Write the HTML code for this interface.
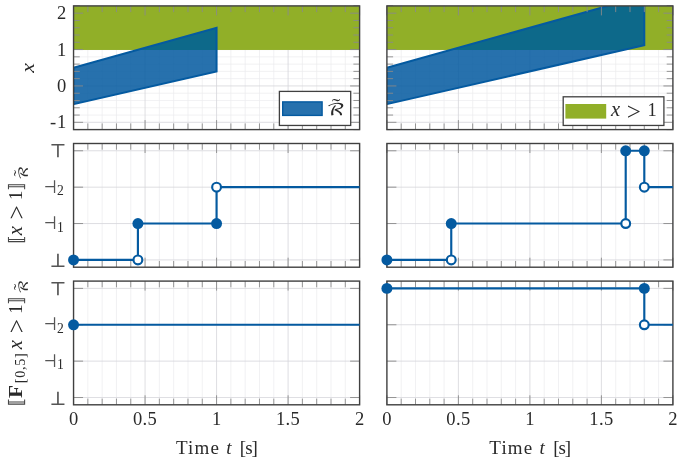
<!DOCTYPE html>
<html><head><meta charset="utf-8"><title>plot</title><style>html,body{margin:0;padding:0;background:#fff}svg{display:block}</style></head><body>
<svg width="685" height="466" viewBox="0 0 685 466">
<rect width="685" height="466" fill="#fff"/>
<defs>
<clipPath id="c0"><rect x="73.55" y="5.9" width="286.05" height="123.7"/></clipPath>
<clipPath id="u0"><rect x="73.55" y="5.9" width="286.05" height="44.06"/></clipPath>
<clipPath id="l0"><rect x="73.55" y="49.96" width="286.05" height="79.64"/></clipPath>
<clipPath id="c1"><rect x="386.9" y="5.9" width="286" height="123.7"/></clipPath>
<clipPath id="u1"><rect x="386.9" y="5.9" width="286" height="44.06"/></clipPath>
<clipPath id="l1"><rect x="386.9" y="49.96" width="286" height="79.64"/></clipPath>
</defs>
<path d="M87.85 5.9V129.6M102.16 5.9V129.6M116.46 5.9V129.6M130.76 5.9V129.6M159.37 5.9V129.6M173.67 5.9V129.6M187.97 5.9V129.6M202.27 5.9V129.6M230.88 5.9V129.6M245.18 5.9V129.6M259.48 5.9V129.6M273.79 5.9V129.6M302.39 5.9V129.6M316.69 5.9V129.6M331 5.9V129.6M345.3 5.9V129.6M73.55 115.05H359.6M73.55 107.77H359.6M73.55 100.49H359.6M73.55 93.22H359.6M73.55 78.66H359.6M73.55 71.39H359.6M73.55 64.11H359.6M73.55 56.84H359.6M73.55 42.28H359.6M73.55 35.01H359.6M73.55 27.73H359.6M73.55 20.45H359.6" stroke="#ebebee" stroke-width="0.7" fill="none"/>
<path d="M145.06 5.9V129.6M216.57 5.9V129.6M288.09 5.9V129.6M73.55 122.32H359.6M73.55 85.94H359.6M73.55 49.56H359.6M73.55 13.18H359.6" stroke="#d6d6da" stroke-width="0.8" fill="none"/>
<rect x="73.55" y="5.9" width="286.05" height="44.06" fill="#91af28"/>
<polygon points="73.55,67.75 216.57,27.73 216.57,71.39 73.55,104.13" fill="#0d698a" clip-path="url(#u0)"/>
<polygon points="73.55,67.75 216.57,27.73 216.57,71.39 73.55,104.13" fill="#045aa0" fill-opacity="0.86" clip-path="url(#l0)"/>
<polygon points="73.55,67.75 216.57,27.73 216.57,71.39 73.55,104.13" fill="none" stroke="#045aa0" stroke-width="2" stroke-linejoin="miter" clip-path="url(#c0)"/>
<path d="M73.55 5.9v9.5M73.55 129.6v-9.5M87.85 5.9v6.2M87.85 129.6v-6.2M102.16 5.9v6.2M102.16 129.6v-6.2M116.46 5.9v6.2M116.46 129.6v-6.2M130.76 5.9v6.2M130.76 129.6v-6.2M145.06 5.9v9.5M145.06 129.6v-9.5M159.37 5.9v6.2M159.37 129.6v-6.2M173.67 5.9v6.2M173.67 129.6v-6.2M187.97 5.9v6.2M187.97 129.6v-6.2M202.27 5.9v6.2M202.27 129.6v-6.2M216.57 5.9v9.5M216.57 129.6v-9.5M230.88 5.9v6.2M230.88 129.6v-6.2M245.18 5.9v6.2M245.18 129.6v-6.2M259.48 5.9v6.2M259.48 129.6v-6.2M273.79 5.9v6.2M273.79 129.6v-6.2M288.09 5.9v9.5M288.09 129.6v-9.5M302.39 5.9v6.2M302.39 129.6v-6.2M316.69 5.9v6.2M316.69 129.6v-6.2M331 5.9v6.2M331 129.6v-6.2M345.3 5.9v6.2M345.3 129.6v-6.2M359.6 5.9v9.5M359.6 129.6v-9.5M73.55 129.6h6.2M359.6 129.6h-6.2M73.55 122.32h9.5M359.6 122.32h-9.5M73.55 115.05h6.2M359.6 115.05h-6.2M73.55 107.77h6.2M359.6 107.77h-6.2M73.55 100.49h6.2M359.6 100.49h-6.2M73.55 93.22h6.2M359.6 93.22h-6.2M73.55 85.94h9.5M359.6 85.94h-9.5M73.55 78.66h6.2M359.6 78.66h-6.2M73.55 71.39h6.2M359.6 71.39h-6.2M73.55 64.11h6.2M359.6 64.11h-6.2M73.55 56.84h6.2M359.6 56.84h-6.2M73.55 49.56h9.5M359.6 49.56h-9.5M73.55 42.28h6.2M359.6 42.28h-6.2M73.55 35.01h6.2M359.6 35.01h-6.2M73.55 27.73h6.2M359.6 27.73h-6.2M73.55 20.45h6.2M359.6 20.45h-6.2M73.55 13.18h9.5M359.6 13.18h-9.5M73.55 5.9h6.2M359.6 5.9h-6.2" stroke="#8a8a8a" stroke-width="0.9" fill="none"/>
<rect x="73.55" y="5.9" width="286.05" height="123.7" fill="none" stroke="#404040" stroke-width="1.4"/>
<path d="M401.2 5.9V129.6M415.5 5.9V129.6M429.8 5.9V129.6M444.1 5.9V129.6M472.7 5.9V129.6M487 5.9V129.6M501.3 5.9V129.6M515.6 5.9V129.6M544.2 5.9V129.6M558.5 5.9V129.6M572.8 5.9V129.6M587.1 5.9V129.6M615.7 5.9V129.6M630 5.9V129.6M644.3 5.9V129.6M658.6 5.9V129.6M386.9 115.05H672.9M386.9 107.77H672.9M386.9 100.49H672.9M386.9 93.22H672.9M386.9 78.66H672.9M386.9 71.39H672.9M386.9 64.11H672.9M386.9 56.84H672.9M386.9 42.28H672.9M386.9 35.01H672.9M386.9 27.73H672.9M386.9 20.45H672.9" stroke="#ebebee" stroke-width="0.7" fill="none"/>
<path d="M458.4 5.9V129.6M529.9 5.9V129.6M601.4 5.9V129.6M386.9 122.32H672.9M386.9 85.94H672.9M386.9 49.56H672.9M386.9 13.18H672.9" stroke="#d6d6da" stroke-width="0.8" fill="none"/>
<rect x="386.9" y="5.9" width="286" height="44.06" fill="#91af28"/>
<polygon points="386.9,67.75 644.3,-4.29 644.3,45.19 386.9,104.13" fill="#0d698a" clip-path="url(#u1)"/>
<polygon points="386.9,67.75 644.3,-4.29 644.3,45.19 386.9,104.13" fill="#045aa0" fill-opacity="0.86" clip-path="url(#l1)"/>
<polygon points="386.9,67.75 644.3,-4.29 644.3,45.19 386.9,104.13" fill="none" stroke="#045aa0" stroke-width="2" stroke-linejoin="miter" clip-path="url(#c1)"/>
<path d="M386.9 5.9v9.5M386.9 129.6v-9.5M401.2 5.9v6.2M401.2 129.6v-6.2M415.5 5.9v6.2M415.5 129.6v-6.2M429.8 5.9v6.2M429.8 129.6v-6.2M444.1 5.9v6.2M444.1 129.6v-6.2M458.4 5.9v9.5M458.4 129.6v-9.5M472.7 5.9v6.2M472.7 129.6v-6.2M487 5.9v6.2M487 129.6v-6.2M501.3 5.9v6.2M501.3 129.6v-6.2M515.6 5.9v6.2M515.6 129.6v-6.2M529.9 5.9v9.5M529.9 129.6v-9.5M544.2 5.9v6.2M544.2 129.6v-6.2M558.5 5.9v6.2M558.5 129.6v-6.2M572.8 5.9v6.2M572.8 129.6v-6.2M587.1 5.9v6.2M587.1 129.6v-6.2M601.4 5.9v9.5M601.4 129.6v-9.5M615.7 5.9v6.2M615.7 129.6v-6.2M630 5.9v6.2M630 129.6v-6.2M644.3 5.9v6.2M644.3 129.6v-6.2M658.6 5.9v6.2M658.6 129.6v-6.2M672.9 5.9v9.5M672.9 129.6v-9.5M386.9 129.6h6.2M672.9 129.6h-6.2M386.9 122.32h9.5M672.9 122.32h-9.5M386.9 115.05h6.2M672.9 115.05h-6.2M386.9 107.77h6.2M672.9 107.77h-6.2M386.9 100.49h6.2M672.9 100.49h-6.2M386.9 93.22h6.2M672.9 93.22h-6.2M386.9 85.94h9.5M672.9 85.94h-9.5M386.9 78.66h6.2M672.9 78.66h-6.2M386.9 71.39h6.2M672.9 71.39h-6.2M386.9 64.11h6.2M672.9 64.11h-6.2M386.9 56.84h6.2M672.9 56.84h-6.2M386.9 49.56h9.5M672.9 49.56h-9.5M386.9 42.28h6.2M672.9 42.28h-6.2M386.9 35.01h6.2M672.9 35.01h-6.2M386.9 27.73h6.2M672.9 27.73h-6.2M386.9 20.45h6.2M672.9 20.45h-6.2M386.9 13.18h9.5M672.9 13.18h-9.5M386.9 5.9h6.2M672.9 5.9h-6.2" stroke="#8a8a8a" stroke-width="0.9" fill="none"/>
<rect x="386.9" y="5.9" width="286" height="123.7" fill="none" stroke="#404040" stroke-width="1.4"/>
<path d="M87.85 143.5V267.2M102.16 143.5V267.2M116.46 143.5V267.2M130.76 143.5V267.2M159.37 143.5V267.2M173.67 143.5V267.2M187.97 143.5V267.2M202.27 143.5V267.2M230.88 143.5V267.2M245.18 143.5V267.2M259.48 143.5V267.2M273.79 143.5V267.2M302.39 143.5V267.2M316.69 143.5V267.2M331 143.5V267.2M345.3 143.5V267.2" stroke="#ebebee" stroke-width="0.7" fill="none"/>
<path d="M145.06 143.5V267.2M216.57 143.5V267.2M288.09 143.5V267.2M73.55 259.92H359.6M73.55 223.54H359.6M73.55 187.16H359.6M73.55 150.78H359.6" stroke="#d6d6da" stroke-width="0.8" fill="none"/>
<path d="M73.55 143.5v9.5M73.55 267.2v-9.5M87.85 143.5v6.2M87.85 267.2v-6.2M102.16 143.5v6.2M102.16 267.2v-6.2M116.46 143.5v6.2M116.46 267.2v-6.2M130.76 143.5v6.2M130.76 267.2v-6.2M145.06 143.5v9.5M145.06 267.2v-9.5M159.37 143.5v6.2M159.37 267.2v-6.2M173.67 143.5v6.2M173.67 267.2v-6.2M187.97 143.5v6.2M187.97 267.2v-6.2M202.27 143.5v6.2M202.27 267.2v-6.2M216.57 143.5v9.5M216.57 267.2v-9.5M230.88 143.5v6.2M230.88 267.2v-6.2M245.18 143.5v6.2M245.18 267.2v-6.2M259.48 143.5v6.2M259.48 267.2v-6.2M273.79 143.5v6.2M273.79 267.2v-6.2M288.09 143.5v9.5M288.09 267.2v-9.5M302.39 143.5v6.2M302.39 267.2v-6.2M316.69 143.5v6.2M316.69 267.2v-6.2M331 143.5v6.2M331 267.2v-6.2M345.3 143.5v6.2M345.3 267.2v-6.2M359.6 143.5v9.5M359.6 267.2v-9.5M73.55 259.92h9.5M359.6 259.92h-9.5M73.55 223.54h9.5M359.6 223.54h-9.5M73.55 187.16h9.5M359.6 187.16h-9.5M73.55 150.78h9.5M359.6 150.78h-9.5" stroke="#8a8a8a" stroke-width="0.9" fill="none"/>
<rect x="73.55" y="143.5" width="286.05" height="123.7" fill="none" stroke="#404040" stroke-width="1.4"/>
<path d="M87.85 281.1V404.8M102.16 281.1V404.8M116.46 281.1V404.8M130.76 281.1V404.8M159.37 281.1V404.8M173.67 281.1V404.8M187.97 281.1V404.8M202.27 281.1V404.8M230.88 281.1V404.8M245.18 281.1V404.8M259.48 281.1V404.8M273.79 281.1V404.8M302.39 281.1V404.8M316.69 281.1V404.8M331 281.1V404.8M345.3 281.1V404.8" stroke="#ebebee" stroke-width="0.7" fill="none"/>
<path d="M145.06 281.1V404.8M216.57 281.1V404.8M288.09 281.1V404.8M73.55 397.52H359.6M73.55 361.14H359.6M73.55 324.76H359.6M73.55 288.38H359.6" stroke="#d6d6da" stroke-width="0.8" fill="none"/>
<path d="M73.55 281.1v9.5M73.55 404.8v-9.5M87.85 281.1v6.2M87.85 404.8v-6.2M102.16 281.1v6.2M102.16 404.8v-6.2M116.46 281.1v6.2M116.46 404.8v-6.2M130.76 281.1v6.2M130.76 404.8v-6.2M145.06 281.1v9.5M145.06 404.8v-9.5M159.37 281.1v6.2M159.37 404.8v-6.2M173.67 281.1v6.2M173.67 404.8v-6.2M187.97 281.1v6.2M187.97 404.8v-6.2M202.27 281.1v6.2M202.27 404.8v-6.2M216.57 281.1v9.5M216.57 404.8v-9.5M230.88 281.1v6.2M230.88 404.8v-6.2M245.18 281.1v6.2M245.18 404.8v-6.2M259.48 281.1v6.2M259.48 404.8v-6.2M273.79 281.1v6.2M273.79 404.8v-6.2M288.09 281.1v9.5M288.09 404.8v-9.5M302.39 281.1v6.2M302.39 404.8v-6.2M316.69 281.1v6.2M316.69 404.8v-6.2M331 281.1v6.2M331 404.8v-6.2M345.3 281.1v6.2M345.3 404.8v-6.2M359.6 281.1v9.5M359.6 404.8v-9.5M73.55 397.52h9.5M359.6 397.52h-9.5M73.55 361.14h9.5M359.6 361.14h-9.5M73.55 324.76h9.5M359.6 324.76h-9.5M73.55 288.38h9.5M359.6 288.38h-9.5" stroke="#8a8a8a" stroke-width="0.9" fill="none"/>
<rect x="73.55" y="281.1" width="286.05" height="123.7" fill="none" stroke="#404040" stroke-width="1.4"/>
<path d="M401.2 143.5V267.2M415.5 143.5V267.2M429.8 143.5V267.2M444.1 143.5V267.2M472.7 143.5V267.2M487 143.5V267.2M501.3 143.5V267.2M515.6 143.5V267.2M544.2 143.5V267.2M558.5 143.5V267.2M572.8 143.5V267.2M587.1 143.5V267.2M615.7 143.5V267.2M630 143.5V267.2M644.3 143.5V267.2M658.6 143.5V267.2" stroke="#ebebee" stroke-width="0.7" fill="none"/>
<path d="M458.4 143.5V267.2M529.9 143.5V267.2M601.4 143.5V267.2M386.9 259.92H672.9M386.9 223.54H672.9M386.9 187.16H672.9M386.9 150.78H672.9" stroke="#d6d6da" stroke-width="0.8" fill="none"/>
<path d="M386.9 143.5v9.5M386.9 267.2v-9.5M401.2 143.5v6.2M401.2 267.2v-6.2M415.5 143.5v6.2M415.5 267.2v-6.2M429.8 143.5v6.2M429.8 267.2v-6.2M444.1 143.5v6.2M444.1 267.2v-6.2M458.4 143.5v9.5M458.4 267.2v-9.5M472.7 143.5v6.2M472.7 267.2v-6.2M487 143.5v6.2M487 267.2v-6.2M501.3 143.5v6.2M501.3 267.2v-6.2M515.6 143.5v6.2M515.6 267.2v-6.2M529.9 143.5v9.5M529.9 267.2v-9.5M544.2 143.5v6.2M544.2 267.2v-6.2M558.5 143.5v6.2M558.5 267.2v-6.2M572.8 143.5v6.2M572.8 267.2v-6.2M587.1 143.5v6.2M587.1 267.2v-6.2M601.4 143.5v9.5M601.4 267.2v-9.5M615.7 143.5v6.2M615.7 267.2v-6.2M630 143.5v6.2M630 267.2v-6.2M644.3 143.5v6.2M644.3 267.2v-6.2M658.6 143.5v6.2M658.6 267.2v-6.2M672.9 143.5v9.5M672.9 267.2v-9.5M386.9 259.92h9.5M672.9 259.92h-9.5M386.9 223.54h9.5M672.9 223.54h-9.5M386.9 187.16h9.5M672.9 187.16h-9.5M386.9 150.78h9.5M672.9 150.78h-9.5" stroke="#8a8a8a" stroke-width="0.9" fill="none"/>
<rect x="386.9" y="143.5" width="286" height="123.7" fill="none" stroke="#404040" stroke-width="1.4"/>
<path d="M401.2 281.1V404.8M415.5 281.1V404.8M429.8 281.1V404.8M444.1 281.1V404.8M472.7 281.1V404.8M487 281.1V404.8M501.3 281.1V404.8M515.6 281.1V404.8M544.2 281.1V404.8M558.5 281.1V404.8M572.8 281.1V404.8M587.1 281.1V404.8M615.7 281.1V404.8M630 281.1V404.8M644.3 281.1V404.8M658.6 281.1V404.8" stroke="#ebebee" stroke-width="0.7" fill="none"/>
<path d="M458.4 281.1V404.8M529.9 281.1V404.8M601.4 281.1V404.8M386.9 397.52H672.9M386.9 361.14H672.9M386.9 324.76H672.9M386.9 288.38H672.9" stroke="#d6d6da" stroke-width="0.8" fill="none"/>
<path d="M386.9 281.1v9.5M386.9 404.8v-9.5M401.2 281.1v6.2M401.2 404.8v-6.2M415.5 281.1v6.2M415.5 404.8v-6.2M429.8 281.1v6.2M429.8 404.8v-6.2M444.1 281.1v6.2M444.1 404.8v-6.2M458.4 281.1v9.5M458.4 404.8v-9.5M472.7 281.1v6.2M472.7 404.8v-6.2M487 281.1v6.2M487 404.8v-6.2M501.3 281.1v6.2M501.3 404.8v-6.2M515.6 281.1v6.2M515.6 404.8v-6.2M529.9 281.1v9.5M529.9 404.8v-9.5M544.2 281.1v6.2M544.2 404.8v-6.2M558.5 281.1v6.2M558.5 404.8v-6.2M572.8 281.1v6.2M572.8 404.8v-6.2M587.1 281.1v6.2M587.1 404.8v-6.2M601.4 281.1v9.5M601.4 404.8v-9.5M615.7 281.1v6.2M615.7 404.8v-6.2M630 281.1v6.2M630 404.8v-6.2M644.3 281.1v6.2M644.3 404.8v-6.2M658.6 281.1v6.2M658.6 404.8v-6.2M672.9 281.1v9.5M672.9 404.8v-9.5M386.9 397.52h9.5M672.9 397.52h-9.5M386.9 361.14h9.5M672.9 361.14h-9.5M386.9 324.76h9.5M672.9 324.76h-9.5M386.9 288.38h9.5M672.9 288.38h-9.5" stroke="#8a8a8a" stroke-width="0.9" fill="none"/>
<rect x="386.9" y="281.1" width="286" height="123.7" fill="none" stroke="#404040" stroke-width="1.4"/>
<polyline points="73.55,259.92 137.91,259.92 137.91,223.54 216.57,223.54 216.57,187.16 359.6,187.16" fill="none" stroke="#045aa0" stroke-width="2.15" stroke-linejoin="miter"/>
<circle cx="73.55" cy="259.92" r="5.48" fill="#045aa0"/>
<circle cx="137.91" cy="259.92" r="4.4" fill="#fff" stroke="#045aa0" stroke-width="2.15"/>
<circle cx="137.91" cy="223.54" r="5.48" fill="#045aa0"/>
<circle cx="216.57" cy="223.54" r="5.48" fill="#045aa0"/>
<circle cx="216.57" cy="187.16" r="4.4" fill="#fff" stroke="#045aa0" stroke-width="2.15"/>
<polyline points="386.9,259.92 451.25,259.92 451.25,223.54 625.71,223.54 625.71,150.78 644.3,150.78 644.3,187.16 672.9,187.16" fill="none" stroke="#045aa0" stroke-width="2.15" stroke-linejoin="miter"/>
<circle cx="386.9" cy="259.92" r="5.48" fill="#045aa0"/>
<circle cx="451.25" cy="259.92" r="4.4" fill="#fff" stroke="#045aa0" stroke-width="2.15"/>
<circle cx="451.25" cy="223.54" r="5.48" fill="#045aa0"/>
<circle cx="625.71" cy="223.54" r="4.4" fill="#fff" stroke="#045aa0" stroke-width="2.15"/>
<circle cx="625.71" cy="150.78" r="5.48" fill="#045aa0"/>
<circle cx="644.3" cy="150.78" r="5.48" fill="#045aa0"/>
<circle cx="644.3" cy="187.16" r="4.4" fill="#fff" stroke="#045aa0" stroke-width="2.15"/>
<polyline points="73.55,324.76 359.6,324.76" fill="none" stroke="#045aa0" stroke-width="2.15" stroke-linejoin="miter"/>
<circle cx="73.55" cy="324.76" r="5.48" fill="#045aa0"/>
<polyline points="386.9,288.38 644.3,288.38 644.3,324.76 672.9,324.76" fill="none" stroke="#045aa0" stroke-width="2.15" stroke-linejoin="miter"/>
<circle cx="386.9" cy="288.38" r="5.48" fill="#045aa0"/>
<circle cx="644.3" cy="288.38" r="5.48" fill="#045aa0"/>
<circle cx="644.3" cy="324.76" r="4.4" fill="#fff" stroke="#045aa0" stroke-width="2.15"/>
<rect x="279.4" y="91.4" width="71.3" height="34.05" fill="#fff" stroke="#404040" stroke-width="1.3"/>
<rect x="282.7" y="101.9" width="39.4" height="13.5" fill="#045aa0" fill-opacity="0.86" stroke="#045aa0" stroke-width="1.4"/>
<text transform="translate(326.3,115.4) scale(1.370,1.000)" font-family="'DejaVu Math TeX Gyre','DejaVu Sans',sans-serif" font-size="16.3" fill="#2a2a2a">ℛ</text>
<text transform="translate(331.7,112) scale(1.350,1.000)" font-family="'Liberation Serif','DejaVu Serif',serif" font-size="19" fill="#2a2a2a">˜</text>
<rect x="563.2" y="96.8" width="100.7" height="28.65" fill="#fff" stroke="#404040" stroke-width="1.3"/>
<rect x="565.4" y="104" width="40.8" height="14.6" fill="#91af28"/>
<text font-family="'Liberation Serif','DejaVu Serif',serif" fill="#2a2a2a"><tspan x="611" y="116.1" font-style="italic" font-size="20.5">x </tspan><tspan x="626.8" y="119.6" font-size="25">&gt; </tspan><tspan x="647.5" y="116.1" font-size="18.5">1</tspan></text>
<text x="66.3" y="19.18" font-family="'Liberation Serif','DejaVu Serif',serif" font-size="18.5" fill="#2a2a2a" text-anchor="end">2</text>
<text x="66.3" y="55.56" font-family="'Liberation Serif','DejaVu Serif',serif" font-size="18.5" fill="#2a2a2a" text-anchor="end">1</text>
<text x="66.3" y="91.94" font-family="'Liberation Serif','DejaVu Serif',serif" font-size="18.5" fill="#2a2a2a" text-anchor="end">0</text>
<text x="67.1" y="128.32" font-family="'Liberation Serif','DejaVu Serif',serif" font-size="18.5" fill="#2a2a2a" text-anchor="end" letter-spacing="0.8">-1</text>
<text transform="translate(50,157.08) scale(1.180,1.080)" font-family="'DejaVu Math TeX Gyre','DejaVu Sans',sans-serif" font-size="17.6" fill="#555">⊤</text>
<text transform="translate(44,192.76) scale(0.950,1.100)" font-family="'DejaVu Math TeX Gyre','DejaVu Sans',sans-serif" font-size="16.6" fill="#555">⊣</text>
<text x="57" y="195.16" font-family="'Liberation Serif','DejaVu Serif',serif" font-size="13.6" fill="#2a2a2a">2</text>
<text transform="translate(44,229.14) scale(0.950,1.100)" font-family="'DejaVu Math TeX Gyre','DejaVu Sans',sans-serif" font-size="16.6" fill="#555">⊣</text>
<text x="57" y="231.54" font-family="'Liberation Serif','DejaVu Serif',serif" font-size="13.6" fill="#2a2a2a">1</text>
<text transform="translate(50,267.02) scale(1.180,1.080)" font-family="'DejaVu Math TeX Gyre','DejaVu Sans',sans-serif" font-size="17.6" fill="#555">⊥</text>
<text transform="translate(50,294.68) scale(1.180,1.080)" font-family="'DejaVu Math TeX Gyre','DejaVu Sans',sans-serif" font-size="17.6" fill="#555">⊤</text>
<text transform="translate(44,330.36) scale(0.950,1.100)" font-family="'DejaVu Math TeX Gyre','DejaVu Sans',sans-serif" font-size="16.6" fill="#555">⊣</text>
<text x="57" y="332.76" font-family="'Liberation Serif','DejaVu Serif',serif" font-size="13.6" fill="#2a2a2a">2</text>
<text transform="translate(44,366.74) scale(0.950,1.100)" font-family="'DejaVu Math TeX Gyre','DejaVu Sans',sans-serif" font-size="16.6" fill="#555">⊣</text>
<text x="57" y="369.14" font-family="'Liberation Serif','DejaVu Serif',serif" font-size="13.6" fill="#2a2a2a">1</text>
<text transform="translate(50,404.62) scale(1.180,1.080)" font-family="'DejaVu Math TeX Gyre','DejaVu Sans',sans-serif" font-size="17.6" fill="#555">⊥</text>
<text x="73.55" y="424.6" font-family="'Liberation Serif','DejaVu Serif',serif" font-size="18.5" fill="#2a2a2a" text-anchor="middle">0</text>
<text x="145.06" y="424.6" font-family="'Liberation Serif','DejaVu Serif',serif" font-size="18.5" fill="#2a2a2a" text-anchor="middle" letter-spacing="0.4">0.5</text>
<text x="216.57" y="424.6" font-family="'Liberation Serif','DejaVu Serif',serif" font-size="18.5" fill="#2a2a2a" text-anchor="middle">1</text>
<text x="288.09" y="424.6" font-family="'Liberation Serif','DejaVu Serif',serif" font-size="18.5" fill="#2a2a2a" text-anchor="middle" letter-spacing="0.4">1.5</text>
<text x="359.6" y="424.6" font-family="'Liberation Serif','DejaVu Serif',serif" font-size="18.5" fill="#2a2a2a" text-anchor="middle">2</text>
<text y="454" font-family="'Liberation Serif','DejaVu Serif',serif" font-size="19" fill="#2a2a2a"><tspan x="175.93" letter-spacing="1.2">Time </tspan><tspan x="226.22" font-style="italic">t </tspan><tspan x="239.82" letter-spacing="-1">[s]</tspan></text>
<text x="386.9" y="424.6" font-family="'Liberation Serif','DejaVu Serif',serif" font-size="18.5" fill="#2a2a2a" text-anchor="middle">0</text>
<text x="458.4" y="424.6" font-family="'Liberation Serif','DejaVu Serif',serif" font-size="18.5" fill="#2a2a2a" text-anchor="middle" letter-spacing="0.4">0.5</text>
<text x="529.9" y="424.6" font-family="'Liberation Serif','DejaVu Serif',serif" font-size="18.5" fill="#2a2a2a" text-anchor="middle">1</text>
<text x="601.4" y="424.6" font-family="'Liberation Serif','DejaVu Serif',serif" font-size="18.5" fill="#2a2a2a" text-anchor="middle" letter-spacing="0.4">1.5</text>
<text x="672.9" y="424.6" font-family="'Liberation Serif','DejaVu Serif',serif" font-size="18.5" fill="#2a2a2a" text-anchor="middle">2</text>
<text y="454" font-family="'Liberation Serif','DejaVu Serif',serif" font-size="19" fill="#2a2a2a"><tspan x="489.25" letter-spacing="1.2">Time </tspan><tspan x="539.55" font-style="italic">t </tspan><tspan x="553.15" letter-spacing="-1">[s]</tspan></text>
<g transform="translate(34.3,68) rotate(-90)">
<text transform="translate(0,0) scale(1.120,1.000)" font-family="'Liberation Serif','DejaVu Serif',serif" font-size="19.5" fill="#2a2a2a" text-anchor="middle" font-style="italic">x</text>
</g>
<g transform="translate(22.2,205.35) rotate(-90)">
<text x="-38.8" y="0" font-family="'DejaVu Math TeX Gyre','DejaVu Sans',sans-serif" font-size="19.5" fill="#444">⟦</text>
<text font-family="'Liberation Serif','DejaVu Serif',serif" fill="#2a2a2a"><tspan x="-29.95" y="0" font-style="italic" font-size="20.5">x </tspan><tspan x="-14.15" y="2.6" font-size="25">&gt; </tspan><tspan x="5.45" y="0" font-size="18.5">1</tspan></text>
<text x="15.05" y="0" font-family="'DejaVu Math TeX Gyre','DejaVu Sans',sans-serif" font-size="19.5" fill="#444">⟧</text>
<text transform="translate(25.25,5.4) scale(1.360,1.000)" font-family="'DejaVu Math TeX Gyre','DejaVu Sans',sans-serif" font-size="12.4" fill="#2a2a2a">ℛ</text>
<text transform="translate(28.95,1.3) scale(1.350,1.000)" font-family="'Liberation Serif','DejaVu Serif',serif" font-size="14" fill="#2a2a2a">˜</text>
</g>
<g transform="translate(22.2,342.7) rotate(-90)">
<text x="-64" y="0" font-family="'DejaVu Math TeX Gyre','DejaVu Sans',sans-serif" font-size="19.5" fill="#444">⟦</text>
<text transform="translate(-55.2,0) scale(1.150,1.000)" font-family="'Liberation Serif','DejaVu Serif',serif" font-size="18.5" fill="#2a2a2a" font-weight="bold">F</text>
<text x="-40.6" y="3" font-family="'Liberation Serif','DejaVu Serif',serif" font-size="14.2" fill="#2a2a2a" letter-spacing="0.7">[0,5]</text>
<text font-family="'Liberation Serif','DejaVu Serif',serif" fill="#2a2a2a"><tspan x="-6.45" y="0" font-style="italic" font-size="20.5">x </tspan><tspan x="9.35" y="2.6" font-size="25">&gt; </tspan><tspan x="28.95" y="0" font-size="18.5">1</tspan></text>
<text x="38.55" y="0" font-family="'DejaVu Math TeX Gyre','DejaVu Sans',sans-serif" font-size="19.5" fill="#444">⟧</text>
<text transform="translate(48.75,5.4) scale(1.360,1.000)" font-family="'DejaVu Math TeX Gyre','DejaVu Sans',sans-serif" font-size="12.4" fill="#2a2a2a">ℛ</text>
<text transform="translate(52.45,1.3) scale(1.350,1.000)" font-family="'Liberation Serif','DejaVu Serif',serif" font-size="14" fill="#2a2a2a">˜</text>
</g>
</svg>
</body></html>
